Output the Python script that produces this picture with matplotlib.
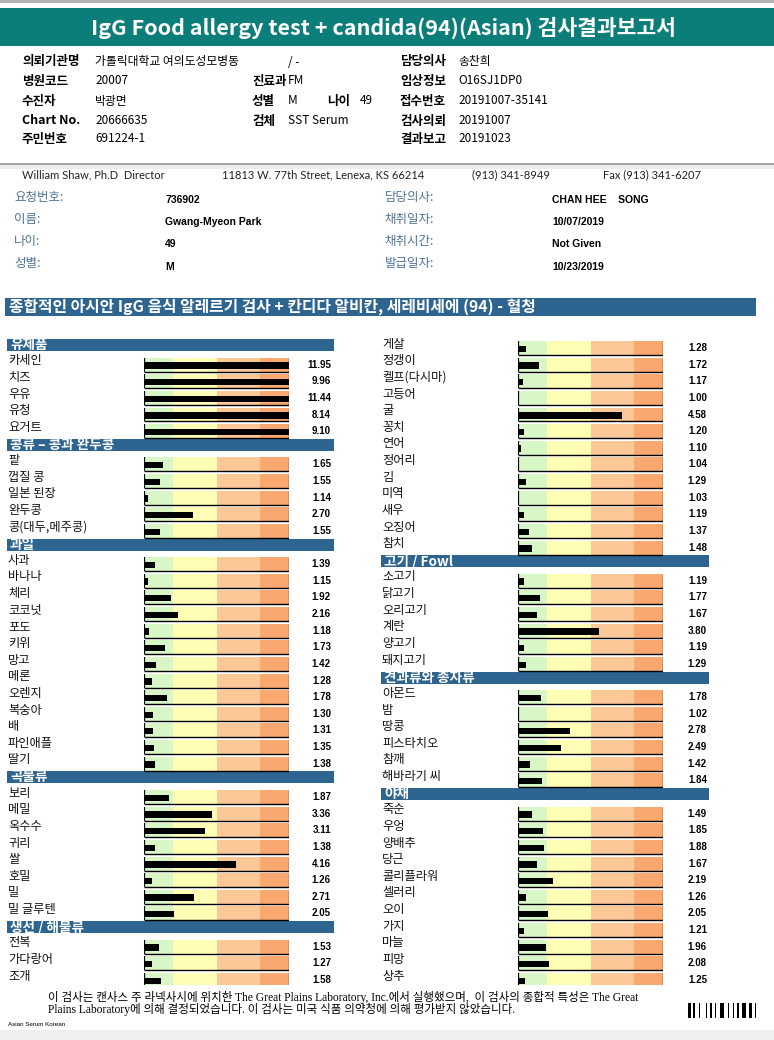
import numpy as np
import matplotlib.pyplot as plt
from matplotlib.patches import Rectangle
from matplotlib.transforms import blended_transform_factory

plt.rcParams['font.family'] = ['Noto Sans CJK KR', 'DejaVu Sans']

W, H = 774, 1040

# --- 검사 결과 데이터 ---
dairy_names = ['카세인', '치즈', '우유', '유청', '요거트']
dairy_vals = [11.95, 9.96, 11.44, 8.14, 9.10]

legume_names = ['팥', '껍질 콩', '일본 된장', '완두콩', '콩(대두,메주콩)']
legume_vals = [1.65, 1.55, 1.14, 2.70, 1.55]

fruit_names = ['사과', '바나나', '체리', '코코넛', '포도', '키위', '망고', '메론',
               '오렌지', '복숭아', '배', '파인애플', '딸기']
fruit_vals = [1.39, 1.15, 1.92, 2.16, 1.18, 1.73, 1.42, 1.28, 1.78, 1.30, 1.31, 1.35, 1.38]

grain_names = ['보리', '메밀', '옥수수', '귀리', '쌀', '호밀', '밀', '밀 글루텐']
grain_vals = [1.87, 3.36, 3.11, 1.38, 4.16, 1.26, 2.71, 2.05]

fish_names = ['전복', '가다랑어', '조개', '게살', '정갱이', '켈프(다시마)', '고등어', '굴',
              '꽁치', '연어', '정어리', '김', '미역', '새우', '오징어', '참치']
fish_vals = [1.53, 1.27, 1.58, 1.28, 1.72, 1.17, 1.00, 4.58, 1.20, 1.10, 1.04, 1.29,
             1.03, 1.19, 1.37, 1.48]

meat_names = ['소고기', '닭고기', '오리고기', '계란', '양고기', '돼지고기']
meat_vals = [1.19, 1.77, 1.67, 3.80, 1.19, 1.29]

nut_names = ['아몬드', '밤', '땅콩', '피스타치오', '참깨', '해바라기 씨']
nut_vals = [1.78, 1.02, 2.78, 2.49, 1.42, 1.84]

veg_names = ['죽순', '우엉', '양배추', '당근', '콜리플라워', '셀러리', '오이', '가지',
             '마늘', '피망', '상추']
veg_vals = [1.49, 1.85, 1.88, 1.67, 2.19, 1.26, 2.05, 1.21, 1.96, 2.08, 1.25]

groups = [
    ('유제품', dairy_names, dairy_vals),
    ('콩류 – 콩과 완두콩', legume_names, legume_vals),
    ('과일', fruit_names, fruit_vals),
    ('곡물류', grain_names, grain_vals),
    ('생선 / 해물류', fish_names, fish_vals),
    ('고기 / Fowl', meat_names, meat_vals),
    ('견과류와 종자류', nut_names, nut_vals),
    ('야채', veg_names, veg_vals),
]

# 눈금 구간 (1 ~ 6)
zone_edges = [1, 2, 3.5, 5, 6]
zone_colors = ['#d8f6c6', '#fefeb4', '#fcc898', '#f9a86f']

# 행 목록 만들기
rows = []
for head, names, vals in groups:
    rows.append(('h', head, None))
    for n, v in zip(names, vals):
        rows.append(('i', n, v))
n_per_col = len(rows) // 2
columns = [rows[:n_per_col], rows[n_per_col:]]

# --- figure ---
fig = plt.figure(figsize=(W / 100, H / 100), dpi=100)


def fy(y):
    return 1 - y / H


def rect(x0, y0, x1, y1, color):
    fig.add_artist(Rectangle((x0 / W, fy(y1)), (x1 - x0) / W, (y1 - y0) / H,
                             transform=fig.transFigure, color=color, lw=0))


def ftext(x, y, s, **kw):
    kw.setdefault('va', 'center')
    fig.text(x / W, fy(y), s, **kw)


# 상단 헤더
rect(0, 0, W, 3, '#b4b4b4')
rect(0, 8, W, 46, '#0c7e79')
ftext(W / 2 - 4, 28, 'IgG Food allergy test + candida(94)(Asian) 검사결과보고서',
      ha='center', color='white', fontsize=15.5, weight='bold')

info_y = [62, 81, 101, 121, 139]
info = [
    [('의뢰기관명', '가톨릭대학교 여의도성모병동'), (None, '/ -'), ('담당의사', '송찬희')],
    [('병원코드', '20007'), ('진료과', 'FM'), ('임상정보', 'O16SJ1DP0')],
    [('수진자', '박광면'), ('성별', 'M'), ('접수번호', '20191007-35141')],
    [('Chart No.', '20666635'), ('검체', 'SST Serum'), ('검사의뢰', '20191007')],
    [('주민번호', '691224-1'), None, ('결과보고', '20191023')],
]
lab_x = [22, 252, 400]
val_x = [95, 288, 458]
for y, line in zip(info_y, info):
    for k, cell in enumerate(line):
        if cell is None:
            continue
        lab, val = cell
        if lab:
            ftext(lab_x[k], y, lab, fontsize=9, weight='bold')
        ftext(val_x[k], y, val, fontsize=8.5)
ftext(327, 101, '나이', fontsize=9, weight='bold')
ftext(360, 101, '49', fontsize=8.5)

rect(0, 163, W, 165, '#a8a8a8')
rect(0, 165, W, 169, '#ececec')

lab_line = [(22, 'William Shaw, Ph.D  Director'),
            (222, '11813 W. 77th Street, Lenexa, KS 66214'),
            (472, '(913) 341-8949'),
            (603, 'Fax (913) 341-6207')]
for x, s in lab_line:
    ftext(x, 175, s, fontsize=8, family='Lato', color='#222222')

pl_y = [197, 219, 241, 264]
pl_left = ['요청번호:', '이름:', '나이:', '성별:']
pv_left = ['736902', 'Gwang-Myeon Park', '49', 'M']
pl_right = ['담당의사:', '채취일자:', '채취시간:', '발급일자:']
pv_right = ['CHAN HEE    SONG', '10/07/2019', 'Not Given', '10/23/2019']
for y, a, b, c, d in zip(pl_y, pl_left, pv_left, pl_right, pv_right):
    ftext(14, y, a, fontsize=9, color='#4f7399', style='italic')
    ftext(165, y + 3, b, fontsize=7.5, family='Liberation Sans', weight='bold')
    ftext(385, y, c, fontsize=9, color='#4f7399', style='italic')
    ftext(552, y + 3, d, fontsize=7.5, family='Liberation Sans', weight='bold')

rect(5, 298, 756, 316, '#2e6490')
ftext(9, 307, '종합적인 아시안 IgG 음식 알레르기 검사 + 칸디다 알비칸, 세레비세에 (94) - 혈청',
      fontsize=11.4, weight='bold', color='white', style='italic')

# --- 막대 영역 ---
pitch = 16.63
row0 = 345
col_layout = [
    dict(label=8, band=(7, 334), cell=(144, 289), val=331),
    dict(label=382, band=(381, 709), cell=(518, 663), val=707),
]
cell_off = 0.18
cell_h = 0.84

for col_rows, lay in zip(columns, col_layout):
    top = row0 - pitch / 2
    bot = row0 + pitch * (n_per_col - 0.5)
    c0, c1 = lay['cell']
    ax = fig.add_axes([c0 / W, fy(bot), (c1 - c0) / W, (bot - top) / H])
    ax.set_xlim(zone_edges[0], zone_edges[-1])
    ax.set_ylim(n_per_col - 0.5, -0.5)
    ax.axis('off')
    tr = blended_transform_factory(fig.transFigure, ax.transData)

    item_idx = np.array([i for i, r in enumerate(col_rows) if r[0] == 'i'])
    item_vals = np.array([r[2] for r in col_rows if r[0] == 'i'])
    yc = item_idx + cell_off
    lo = np.full(len(yc), zone_edges[0], dtype=float)
    hi = np.full(len(yc), zone_edges[-1], dtype=float)

    for z0, z1, zc in zip(zone_edges[:-1], zone_edges[1:], zone_colors):
        ax.barh(yc, z1 - z0, left=z0, height=cell_h, color=zc, lw=0)
    ax.barh(yc + 0.05, np.minimum(item_vals, zone_edges[-1]) - zone_edges[0],
            left=zone_edges[0], height=0.38, color='black', lw=0)
    ax.vlines(lo, yc - cell_h / 2, yc + cell_h / 2, color='black', lw=1.6)
    ax.vlines(hi, yc - cell_h / 2, yc + cell_h / 2, color='#6b2a2a', lw=1)
    ax.hlines(yc + cell_h / 2, lo, hi, color='black', lw=1)

    b0, b1 = lay['band']
    for i, (kind, name, v) in enumerate(col_rows):
        if kind == 'h':
            ax.add_patch(Rectangle((b0 / W, i - 0.36), (b1 - b0) / W, 0.72,
                                   transform=tr, color='#2e6490', lw=0, clip_on=False))
            ax.text((b0 + 3) / W, i, name, transform=tr, va='center', fontsize=9.8,
                    weight='bold', style='italic', color='white')
        else:
            ax.text(lay['label'] / W, i - 0.05, name, transform=tr, va='center',
                    fontsize=8.8, color='#111111')
            ax.text(lay['val'] / W, i + cell_off, f'{v:.2f}', transform=tr,
                    va='center', ha='right', fontsize=7, weight='bold',
                    family='Liberation Sans')

# --- 하단 ---
foot_font = ['Liberation Serif', 'Noto Sans CJK KR']
ftext(48, 997, '이 검사는 캔사스 주 라넥사시에 위치한 The Great Plains Laboratory, Inc.에서 실행했으며,  '
               '이 검사의 종합적 특성은 The Great', fontsize=8.3, family=foot_font)
ftext(48, 1009, 'Plains Laboratory에 의해 결정되었습니다. 이 검사는 미국 식품 의약청에 의해 '
                '평가받지 않았습니다.', fontsize=8.3, family=foot_font)
ftext(8, 1024, 'Asian Serum Korean', fontsize=4.5, family='Liberation Sans')

# 바코드
bar_w = [2, 1, 1, 2, 1, 3, 1, 1, 2, 1, 1, 2, 3, 1, 1, 2, 1, 1, 2, 1, 3, 1, 2, 1, 1]
x = 688.0
for k, bw in enumerate(bar_w):
    if k % 2 == 0:
        rect(x, 1003, x + bw * 1.3, 1018, 'black')
    x += bw * 1.8

rect(0, 1030, W, H, '#efefef')

fig.savefig('out.png', dpi=100)
